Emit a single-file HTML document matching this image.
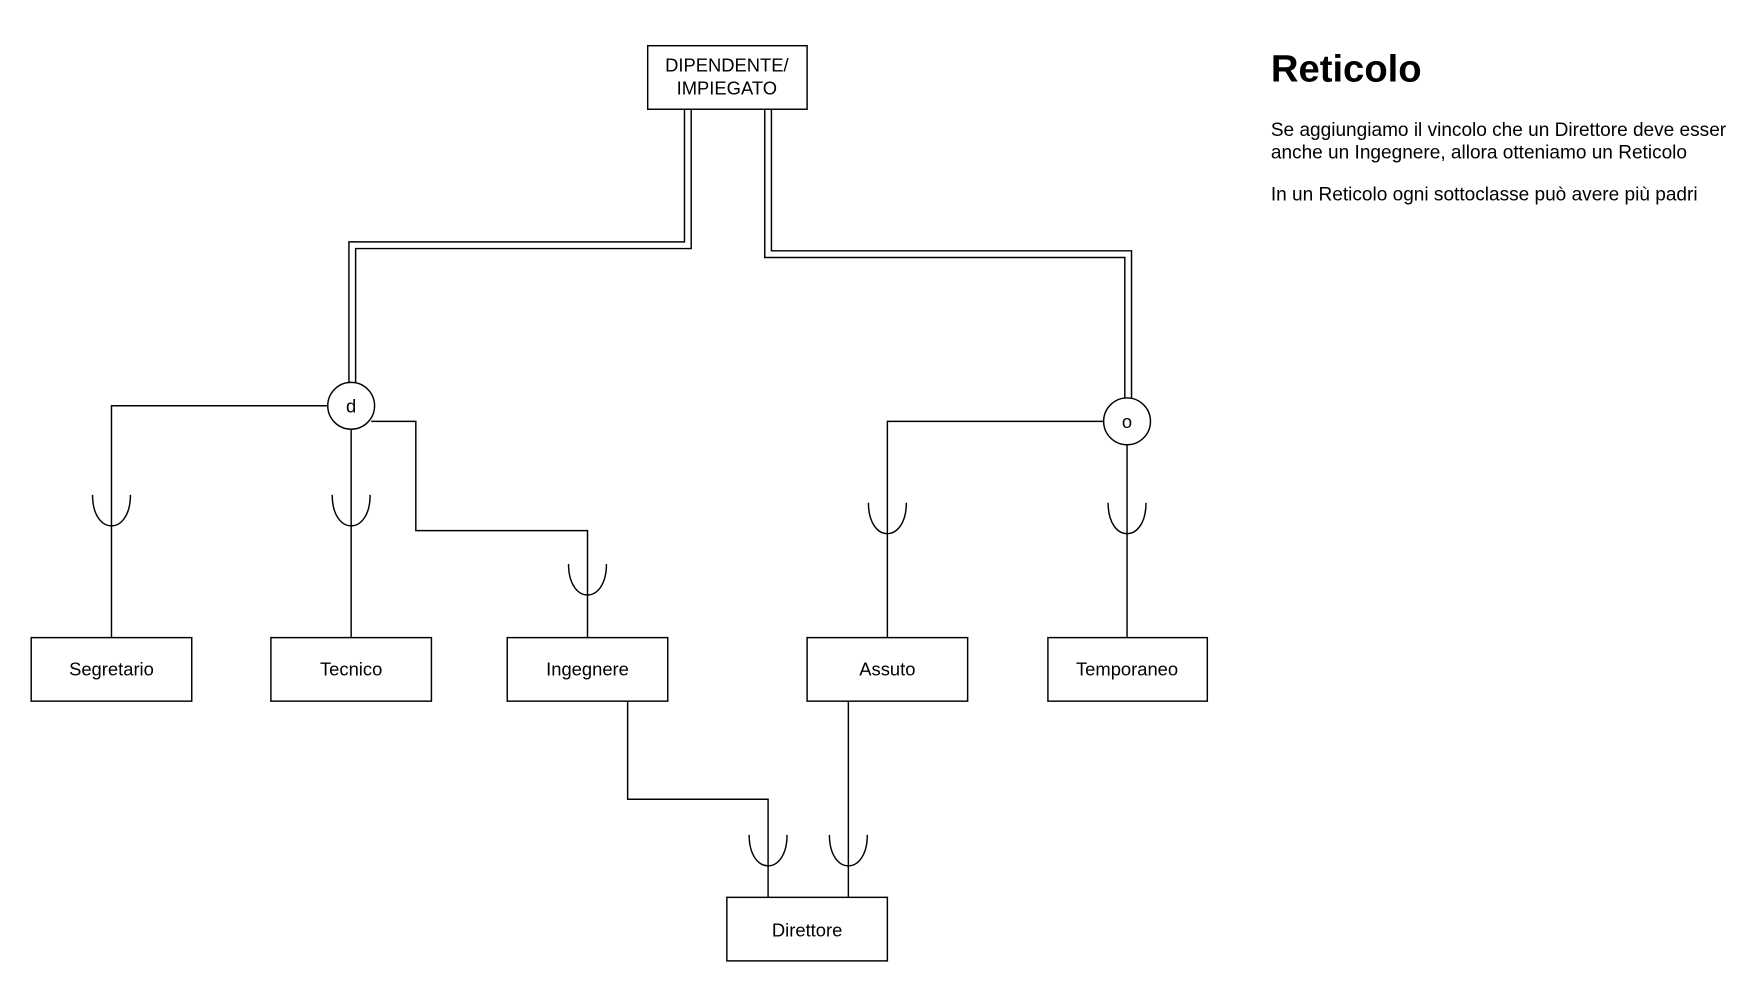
<!DOCTYPE html>
<html><head><meta charset="utf-8"><style>
html,body{margin:0;padding:0;background:#fff;width:1748px;height:996px;overflow:hidden}
svg{display:block}
text{font-family:"Liberation Sans",Arial,sans-serif;fill:#000}
</style></head><body>
<svg width="1748" height="996" viewBox="0 0 1568 893.5" preserveAspectRatio="none" xmlns="http://www.w3.org/2000/svg">
<g fill="none" stroke="#000" stroke-width="1.3">
<polyline points="614,98 614,217 313,217 313,343"/>
<polyline points="620,98 620,223 319,223 319,344"/>
<polyline points="686,98 686,231 1009,231 1009,358"/>
<polyline points="692,98 692,225 1015,225 1015,359"/>
<polyline points="294,364 100,364 100,572"/>
<line x1="315" y1="385" x2="315" y2="572"/>
<polyline points="333,378 373,378 373,476 527,476 527,572"/>
<polyline points="990,378 796,378 796,572"/>
<line x1="1011" y1="399" x2="1011" y2="572"/>
<polyline points="563,629 563,717 689,717 689,805"/>
<line x1="761" y1="629" x2="761" y2="805"/>
<path d="M83,444 C83,481 117,481 117,444"/>
<path d="M298,444 C298,481 332,481 332,444"/>
<path d="M510,506 C510,543 544,543 544,506"/>
<path d="M779,451 C779,488 813,488 813,451"/>
<path d="M994,451 C994,488 1028,488 1028,451"/>
<path d="M672,749 C672,786 706,786 706,749"/>
<path d="M744,749 C744,786 778,786 778,749"/>
<circle cx="315" cy="364" r="21" fill="#fff"/>
<circle cx="1011" cy="378" r="21" fill="#fff"/>
<rect x="581" y="41" width="143" height="57" fill="#fff"/>
<rect x="28" y="572" width="144" height="57"/>
<rect x="243" y="572" width="144" height="57"/>
<rect x="455" y="572" width="144" height="57"/>
<rect x="724" y="572" width="144" height="57"/>
<rect x="940" y="572" width="143" height="57"/>
<rect x="652" y="805" width="144" height="57"/>
</g>
<g font-size="16.5" text-anchor="middle">
<text x="652" y="64">DIPENDENTE/</text>
<text x="652" y="85">IMPIEGATO</text>
<text x="315" y="370">d</text>
<text x="1011" y="384">o</text>
<text x="100" y="606">Segretario</text>
<text x="315" y="606">Tecnico</text>
<text x="527" y="606">Ingegnere</text>
<text x="796" y="606">Assuto</text>
<text x="1011" y="606">Temporaneo</text>
<text x="724" y="840">Direttore</text>
</g>
<text x="1140" y="73" font-size="34.3" font-weight="bold">Reticolo</text>
<g font-size="17.1">
<text x="1140" y="122">Se aggiungiamo il vincolo che un Direttore deve esser</text>
<text x="1140" y="142">anche un Ingegnere, allora otteniamo un Reticolo</text>
<text x="1140" y="180">In un Reticolo ogni sottoclasse può avere più padri</text>
</g>
</svg>
</body></html>
